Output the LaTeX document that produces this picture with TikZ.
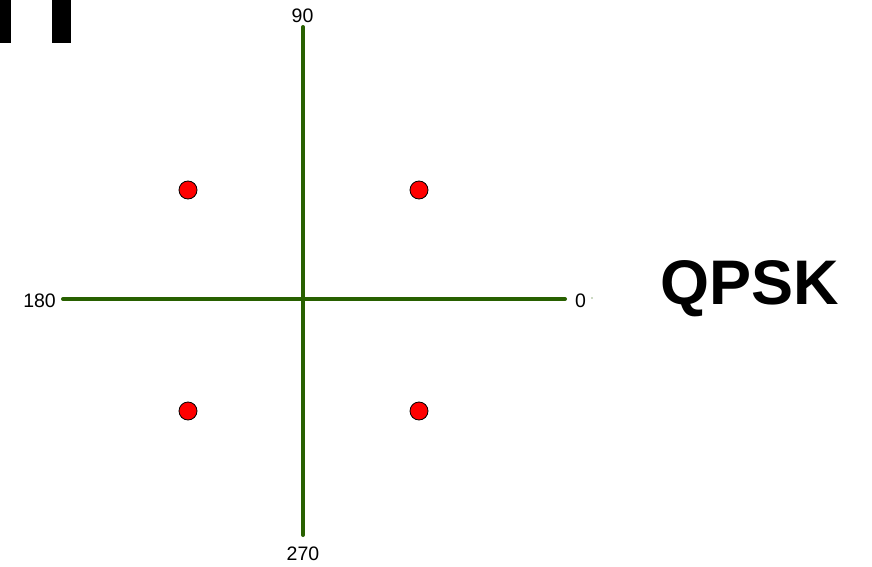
\documentclass[tikz,border=0pt]{standalone}
\usepackage{fontspec}
\setmainfont{Liberation Sans}
\definecolor{axisgreen}{RGB}{40,96,0}
\definecolor{dotred}{RGB}{255,0,0}
\tikzset{
  axis/.style={draw=axisgreen, line width=4pt, line cap=round},
  sym/.style={circle, fill=dotred, draw=black, line width=0.8pt, minimum size=18pt, inner sep=0pt},
  lbl/.style={inner sep=0pt, font=\fontsize{19.5}{21}\selectfont},
  bar/.style={fill=black}
}
\begin{document}
\begin{tikzpicture}[x=1pt,y=-1pt]
\useasboundingbox (0,0) rectangle (872,567);
\fill[white] (0,0) rectangle (872,567);
% cropped black bars
\fill[black] (0,0) rectangle (11,43);
\fill[black] (52,0) rectangle (71,43);
% axes
\coordinate (top) at (303,27);
\coordinate (bot) at (303,535);
\coordinate (left) at (63,299);
\coordinate (right) at (565,299);
\draw[axis] (top) -- (bot);
\draw[axis] (left) -- (right);
% labels
\node[lbl, anchor=south] (l90) at (302.5,23) {90};
\node[lbl, anchor=north] (l270) at (303,547) {270};
\node[lbl, anchor=east] (l180) at (56,300.5) {180};
\node[lbl, anchor=west] (l0) at (575,300.5) {0};
\fill[axisgreen] (592,298) circle (0.6pt);
% constellation points
\node[sym] (s1) at (188,190) {};
\node[sym] (s2) at (419,190) {};
\node[sym] (s3) at (188,411) {};
\node[sym] (s4) at (419,411) {};
% title
\node[inner sep=0pt, anchor=base, font=\fontsize{63}{66}\selectfont\bfseries] (title) at (750,304) {QPSK};
\end{tikzpicture}
\end{document}
